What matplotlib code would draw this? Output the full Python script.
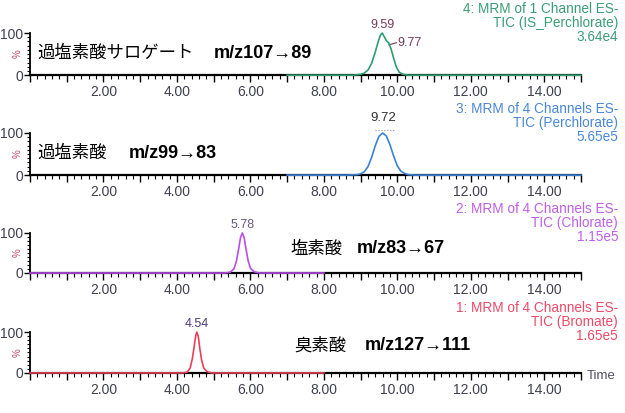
import matplotlib
matplotlib.use("Agg")
import matplotlib.pyplot as plt
from matplotlib.ticker import MultipleLocator, FuncFormatter

# ---------------------------------------------------
# DATA
# ---------------------------------------------------

# 4: IS_Perchlorate (green)
is_t = [7.0, 8.8, 9.0, 9.1, 9.2, 9.3, 9.4, 9.48, 9.54, 9.59, 9.64, 9.7,
        9.77, 9.83, 9.9, 9.97, 10.05, 10.15, 10.3, 15.0]
is_v = [0, 0, 2, 5, 12, 28, 55, 80, 95, 100, 92, 82,
        76, 62, 40, 20, 7, 2, 0, 0]

# 3: Perchlorate (blue)
perc_t = [7.0, 8.6, 8.9, 9.0, 9.1, 9.2, 9.3, 9.4, 9.5, 9.6, 9.7, 9.8,
          9.9, 10.0, 10.1, 10.2, 10.3, 10.5, 15.0]
perc_v = [0, 0, 1, 3, 8, 20, 42, 70, 92, 100, 93, 72,
          45, 22, 9, 4, 1, 0, 0]

# 2: Chlorate (purple)
chlo_t = [0.0, 5.3, 5.45, 5.55, 5.62, 5.68, 5.73, 5.78, 5.83, 5.88, 5.94,
          6.0, 6.1, 6.25, 8.0]
chlo_v = [0, 0, 2, 10, 30, 60, 88, 100, 88, 60, 30, 12, 3, 0, 0]

# 1: Bromate (red)
brom_t = [0.0, 4.15, 4.28, 4.36, 4.42, 4.47, 4.51, 4.54, 4.58, 4.62, 4.67,
          4.73, 4.82, 4.95, 8.0]
brom_v = [0, 0, 2, 12, 35, 65, 90, 100, 90, 62, 32, 12, 3, 0, 0]

names_jp = ["過塩素酸サロゲート", "過塩素酸", "塩素酸", "臭素酸"]
transitions = ["m/z107→89", "m/z99→83", "m/z83→67", "m/z127→111"]
info = ["4: MRM of 1 Channel ES-\nTIC (IS_Perchlorate)\n3.64e4",
        "3: MRM of 4 Channels ES-\nTIC (Perchlorate)\n5.65e5",
        "2: MRM of 4 Channels ES-\nTIC (Chlorate)\n1.15e5",
        "1: MRM of 4 Channels ES-\nTIC (Bromate)\n1.65e5"]
colors = ["#2f9c70", "#3c82d4", "#b84ee6", "#e8405c"]
info_colors = ["#3a9e78", "#4a88d8", "#c060e8", "#ee4a66"]

series = [(is_t, is_v), (perc_t, perc_v), (chlo_t, chlo_v), (brom_t, brom_v)]

# layout (figure fractions) : bottom of each panel
bottoms = [0.818, 0.576, 0.339, 0.097]
heights = [0.102, 0.102, 0.097, 0.099]
# position of the big labels: (x jp, x m/z, y)
label_pos = [(0.19, 5.0, 52), (0.19, 2.7, 52), (7.1, 8.9, 60), (7.2, 9.1, 68)]

plt.rcParams['font.family'] = ['Liberation Sans', 'DejaVu Sans']

fig = plt.figure(figsize=(6.25, 4.13), dpi=100)
tick_col = "#404050"

for i in range(4):
    ax = fig.add_axes([0.048, bottoms[i], 0.8816, heights[i]])
    t, v = series[i]
    ax.plot(t, v, color=colors[i], lw=1.2, clip_on=False, zorder=5)

    ax.set_xlim(0, 15)
    ax.set_ylim(0, 100)
    for s in ['top', 'right']:
        ax.spines[s].set_visible(False)
    ax.spines['left'].set_linewidth(1.3)
    ax.spines['bottom'].set_linewidth(1.6)

    ax.xaxis.set_major_locator(MultipleLocator(1))
    ax.xaxis.set_minor_locator(MultipleLocator(0.2))
    ax.xaxis.set_major_formatter(FuncFormatter(
        lambda x, p: "%.2f" % x if (x > 0 and round(x) % 2 == 0) else ""))
    ax.set_yticks([0, 100])
    ax.yaxis.set_minor_locator(MultipleLocator(10))
    ax.tick_params(axis='x', which='major', length=5, width=1, labelsize=10,
                   labelcolor=tick_col, pad=2)
    ax.tick_params(axis='x', which='minor', length=3, width=0.8)
    ax.tick_params(axis='y', which='major', length=4, width=1, labelsize=10,
                   labelcolor=tick_col, pad=1)
    ax.tick_params(axis='y', which='minor', length=2, width=0.8)
    ax.patch.set_alpha(0)

    xj, xm, yl = label_pos[i]
    ax.text(xj, yl, names_jp[i], fontsize=12.5, va='center', ha='left',
            family=['Noto Sans CJK JP', 'DejaVu Sans'], clip_on=False)
    ax.text(xm, yl, transitions[i], fontsize=13, va='center', ha='left',
            fontweight='bold', family=['Liberation Sans', 'DejaVu Sans'],
            clip_on=False)

    top_frac = bottoms[i] + heights[i]
    fig.text(0.989, top_frac + 10 / 413, info[i], ha='right', va='center',
             multialignment='right', fontsize=9.8, color=info_colors[i],
             linespacing=0.98)
    # "%" axis label
    fig.text(18 / 625, bottoms[i] + heights[i] / 2, "%", fontsize=7,
             color="#c04a6a", rotation=90, ha='center', va='center')

    if i == 0:
        ax.text(9.59, 119, "9.59", fontsize=9, ha='center', va='center',
                color="#7a3a5a", clip_on=False)
        ax.plot([9.77, 9.98], [72, 77], color="#7a3a5a", lw=0.8, clip_on=False)
        ax.text(10.0, 77, "9.77", fontsize=9, ha='left', va='center',
                color="#7a3a5a", clip_on=False)
    elif i == 1:
        ax.text(9.62, 136, "9.72", fontsize=9.5, ha='center', va='center',
                color="#303030", clip_on=False)
        ax.plot([9.4, 9.9], [107, 107], color="#909090", lw=0.8, ls=':',
                clip_on=False)
    elif i == 2:
        ax.text(5.78, 120, "5.78", fontsize=9, ha='center', va='center',
                color="#6a5a80", clip_on=False)
    else:
        ax.text(4.54, 120, "4.54", fontsize=9, ha='center', va='center',
                color="#4a3a80", clip_on=False)

fig.text(587 / 625, 1 - 376 / 413, "Time", fontsize=9.5, color="#505060",
         ha='left', va='center')

fig.savefig("out.png", dpi=100)
